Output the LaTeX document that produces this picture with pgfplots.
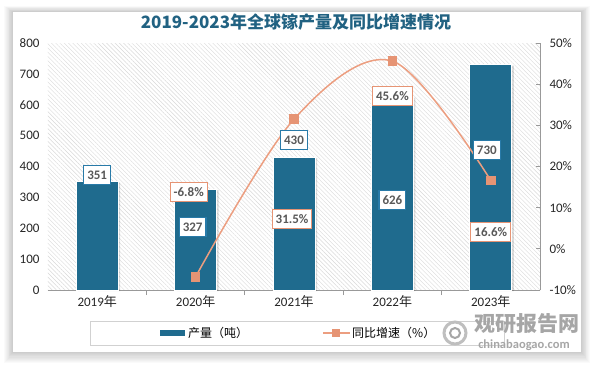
\documentclass[border=0pt]{standalone}
\usepackage{fontspec}
\setmainfont{Carlito}
\newfontfamily\cjk{Noto Sans CJK SC}
\usepackage{pgfplots}
\pgfplotsset{compat=1.18}
\usetikzlibrary{patterns.meta}
\definecolor{barblue}{RGB}{31,107,142}
\definecolor{lblblue}{RGB}{40,122,168}
\definecolor{lineor}{RGB}{236,158,128}
\definecolor{markor}{RGB}{230,148,116}
\definecolor{titleblue}{RGB}{33,98,130}
\definecolor{lbltext}{RGB}{89,89,89}
\tikzset{
  blbl/.style={draw=lblblue, line width=1.1pt, fill=white, inner xsep=3.5pt, inner ysep=3pt, minimum height=19pt, text=lbltext, font=\fontsize{13}{15}\selectfont\bfseries},
  olbl/.style={draw=markor, line width=1.1pt, fill=white, inner xsep=3.5pt, inner ysep=3pt, minimum height=19pt, text=lbltext, font=\fontsize{13}{15}\selectfont\bfseries},
}
\begin{document}
\begin{tikzpicture}[x=1pt,y=1pt]
\path[use as bounding box] (0,0) rectangle (593,365);
\fill[white] (0,0) rectangle (593,365);
\foreach \i in {1,...,10}{\fill[black,opacity=0.018] (13-\i*0.9,13-\i*1.1) rectangle (581+\i*0.9,353+\i*0.6);}
\fill[white] (13,13) rectangle (581,353);
% title
\node[font=\cjk\bfseries\fontsize{17}{19}\selectfont, text=titleblue] at (296,343) {2019-2023年全球镓产量及同比增速情况};
% bars axis
\begin{axis}[
  at={(48pt,75pt)}, anchor=south west, scale only axis,
  width=492pt, height=247pt,
  xmin=-0.5, xmax=4.5, ymin=0, ymax=800,
  axis background/.style={pattern={Lines[angle=-45,distance=3pt,line width=0.4pt]}, pattern color=black!15},
  axis x line*=bottom, axis y line*=left, axis line style={-},
  y axis line style={draw=none},
  x axis line style={draw=black!40, line width=0.8pt},
  ytick={0,100,...,800}, ytick style={draw=none},
  xtick={0,1,2,3,4},
  xticklabels={{2019\cjk 年},{2020\cjk 年},{2021\cjk 年},{2022\cjk 年},{2023\cjk 年}},
  xtick style={draw=none},
  extra x ticks={0.5,1.5,2.5,3.5}, extra x tick labels={},
  extra x tick style={xtick style={draw=black!40, line width=0.8pt}, tick align=outside, major tick length=5pt},
  /pgf/number format/assume math mode=true,
  ticklabel style={font=\fontsize{13}{15}\selectfont, text=black!85},
  yticklabel style={xshift=-5pt},
  xticklabel style={yshift=-2pt},
  clip=false,
]
\addplot[ybar, bar width=42pt, fill=black, opacity=0.13, draw=none, xshift=2pt, yshift=-1pt] coordinates {(0,351) (1,327) (2,430) (3,626) (4,730)};
\addplot[ybar, bar width=42pt, fill=barblue, draw=white, line width=0.8pt] coordinates {(0,351) (1,327) (2,430) (3,626) (4,730)};
\end{axis}
% line axis
\begin{axis}[
  at={(48pt,75pt)}, anchor=south west, scale only axis,
  width=492pt, height=247pt,
  xmin=-0.5, xmax=4.5, ymin=-10, ymax=50,
  axis y line*=right, axis x line=none, axis line style={-},
  y axis line style={draw=black!40, line width=0.8pt},
  ytick={-10,0,...,50}, ytick style={draw=black!40, line width=0.8pt},
  tick align=inside, major tick length=4pt,
  yticklabel={\pgfmathprintnumber{\tick}\%},
  /pgf/number format/assume math mode=true,
  ticklabel style={font=\fontsize{13}{15}\selectfont, text=black!85},
  yticklabel style={xshift=6pt},
  clip=false,
]
\addplot[smooth, tension=0.55, draw=lineor, line width=1.5pt, mark=square*, mark size=4pt, mark options={fill=markor, draw=markor, solid}] coordinates {(1,-6.8) (2,31.5) (3,45.6) (4,16.6)};
% data labels (placed in right-axis units)
\node[blbl] at (axis cs:0,17.94) {351};
\node[blbl] at (axis cs:0.97,5.3) {327};
\node[blbl] at (axis cs:2,26.4) {430};
\node[blbl] at (axis cs:3,11.86) {626};
\node[blbl] at (axis cs:3.96,24.0) {730};
\node[olbl] at (axis cs:0.93,13.81) {-6.8\%};
\node[olbl] at (axis cs:1.98,7.3) {31.5\%};
\node[olbl] at (axis cs:3,37.13) {45.6\%};
\node[olbl] at (axis cs:4,4.09) {16.6\%};
\end{axis}
% legend
\draw[black!18, line width=0.8pt] (90,20) rectangle (504,44);
\fill[barblue] (160,29) rectangle (185,35);
\node[anchor=west, font=\cjk\fontsize{12}{14}\selectfont, inner sep=0pt] at (188,32) {产量（吨）};
\draw[lineor, line width=1.5pt] (323,32) -- (350,32);
\fill[markor] (332,28) rectangle (340,36);
\node[anchor=west, font=\cjk\fontsize{12}{14}\selectfont, inner sep=0pt] at (352,32) {同比增速（\%）};
% watermark
\draw[black!25, line width=3pt] (455,32) circle (11);
\draw[black!35, line width=2pt] (455,32) circle (5);
\node[font=\cjk\bfseries\fontsize{21}{23}\selectfont, text=black!35] at (527,41) {观研报告网};
\node[font=\bfseries\fontsize{12.5}{14}\selectfont, text=black!35] at (524,20) {chinabaogao.com};
\end{tikzpicture}
\end{document}
